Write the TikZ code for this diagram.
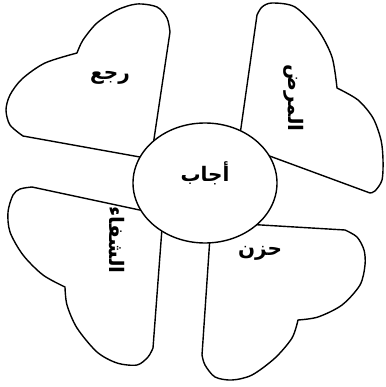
\documentclass[tikz,border=0pt]{standalone}
\usepackage{fontspec}
\TeXXeTstate=1
\newfontfamily\arabicfont[Script=Arabic]{DejaVu Sans}
\begin{document}
\begin{tikzpicture}[x=1pt,y=-1pt,
  petal/.style={draw=black,line width=1.4pt,line join=round,fill=white},
  lbl/.style={font=\arabicfont\bfseries\fontsize{20}{20}\selectfont,inner sep=0pt}]
\useasboundingbox (0,0) rectangle (385,387);
% top-left
\draw[petal] (151,159) -- (23,136)
  -- plot[smooth] coordinates {(23,136) (10,125) (6,110) (10,95) (22,79) (45,63) (77,53)}
  -- plot[smooth] coordinates {(77,53) (83,40) (97,23) (117,10) (137,4) (157,7) (167,18) (170,32)}
  -- cycle;
% top-right
\draw[petal] (238.6,144.6) -- (257,15)
  -- plot[smooth] coordinates {(257,15) (262,7) (272,3) (295,7) (318,30) (332,57) (337,88)}
  -- plot[smooth] coordinates {(337,88) (358,100) (373,118) (381,140) (383,160) (382,180) (375,191) (370,193)}
  -- cycle;
% bottom-left
\draw[petal] (163,215) -- (32,187)
  -- plot[smooth] coordinates {(32,187) (20,189) (13,195) (8,212) (10,232) (23,255) (43,275) (65,287)}
  -- plot[smooth] coordinates {(65,287) (67,305) (77,328) (97,352) (117,363) (137,365) (148,357) (153,348)}
  -- cycle;
% bottom-right
\draw[petal] (211,222) -- (345,230)
  -- plot[smooth] coordinates {(345,230) (357,237) (364,250) (365,265) (360,285) (342,305) (318,317) (298,320)}
  -- plot[smooth] coordinates {(298,320) (292,338) (275,358) (252,375) (232,380) (215,377) (205,365) (202,355)}
  -- cycle;
% center
\draw[petal] (205,183) ellipse [x radius=72, y radius=60];
\node[lbl] (c) at (205,173) {\beginR أجاب\endR};
\node[lbl] (tl) at (110,78) {\beginR رجع\endR};
\node[lbl,rotate=-90] (tr) at (294,98) {\beginR المرض\endR};
\node[lbl,rotate=-90] (bl) at (117,240) {\beginR الشفاء\endR};
\node[lbl] (br) at (260,253) {\beginR حزن\endR};
\end{tikzpicture}
\end{document}
